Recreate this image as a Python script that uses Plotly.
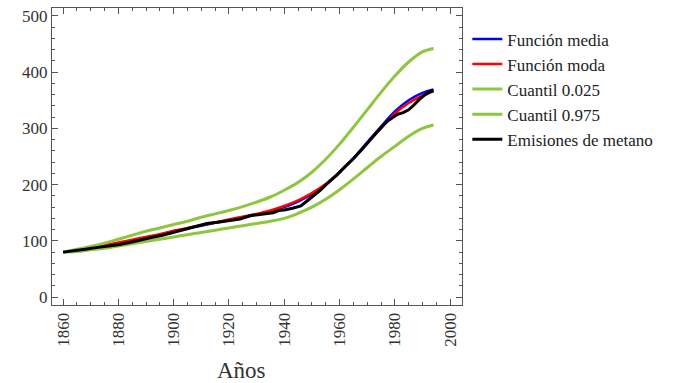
import plotly.graph_objects as go

years = [1860, 1865, 1870, 1875, 1880, 1885, 1890, 1895, 1900, 1905, 1910, 1915, 1920, 1925,
         1930, 1935, 1940, 1945, 1950, 1955, 1960, 1965, 1970, 1975, 1980, 1985, 1990, 1994]

media = [80, 83, 87, 91, 96, 101, 106, 111, 117, 122, 127, 132, 137, 142,
         147, 153, 160, 170, 183, 200, 222, 247, 275, 303, 330, 350, 363, 369]
moda = [80, 83, 88, 92, 97, 102, 107, 112, 118, 123, 128, 133, 138, 143,
        148, 154, 162, 172, 185, 201, 222, 246, 273, 300, 326, 345, 358, 366]
q025 = [80, 81, 84, 87, 91, 95, 99, 103, 107, 111, 115, 119, 123, 127,
        131, 135, 140, 149, 160, 174, 191, 210, 230, 250, 268, 286, 300, 306]
q975 = [80, 85, 90, 96, 103, 110, 117, 123, 129, 135, 142, 148, 154, 161,
        169, 178, 190, 204, 222, 245, 272, 302, 333, 364, 393, 418, 436, 442]

obs_years = [1860, 1864, 1868, 1872, 1876, 1880, 1884, 1888, 1892, 1896, 1900, 1904, 1908,
             1912, 1916, 1920, 1924, 1928, 1932, 1936, 1938, 1940, 1943, 1946, 1948, 1950,
             1953, 1956, 1959, 1962, 1965, 1968, 1971, 1974, 1977, 1979, 1981, 1983, 1985,
             1987, 1989, 1991, 1993, 1994]
emisiones = [80, 82, 85, 88, 90, 93, 97, 102, 106, 110, 115, 121, 125,
             131, 133, 136, 139, 145, 148, 150, 154, 155, 158, 162, 170, 178,
             190, 204, 217, 232, 246, 262, 280, 296, 312, 318, 325, 328, 333,
             342, 352, 360, 366, 367]

SERIF = "Liberation Serif, Times New Roman, serif"
GREEN = "#8DC63F"
fig = go.Figure()
fig.add_trace(go.Scatter(x=years, y=media, mode="lines", name="Función media",
                         line=dict(color="#0000FF", width=2.5, shape="spline")))
fig.add_trace(go.Scatter(x=years, y=moda, mode="lines", name="Función moda",
                         line=dict(color="#FF0000", width=2.5, shape="spline")))
fig.add_trace(go.Scatter(x=years, y=q025, mode="lines", name="Cuantil 0.025",
                         line=dict(color=GREEN, width=3, shape="spline")))
fig.add_trace(go.Scatter(x=years, y=q975, mode="lines", name="Cuantil 0.975",
                         line=dict(color=GREEN, width=3, shape="spline")))
fig.add_trace(go.Scatter(x=obs_years, y=emisiones, mode="lines", name="Emisiones de metano",
                         line=dict(color="#000000", width=3)))

axis_common = dict(showline=True, linecolor="#555", linewidth=1, mirror="allticks",
                   ticks="inside", tickcolor="#555", ticklen=6, showgrid=False, zeroline=False,
                   tickfont=dict(family=SERIF, size=17, color="#333"))
fig.update_xaxes(range=[1856, 2004.3], tick0=1860, dtick=20, tickangle=-90,
                 minor=dict(ticks="inside", ticklen=3, dtick=5, tick0=1860, tickcolor="#555"),
                 **axis_common)
fig.update_yaxes(range=[-14, 514], tick0=0, dtick=100,
                 minor=dict(ticks="inside", ticklen=3, dtick=20, tick0=0, tickcolor="#555"),
                 **axis_common)
fig.add_annotation(text="Años", xref="paper", yref="paper", x=0.463, y=-0.22,
                   xanchor="center", yanchor="middle", showarrow=False,
                   font=dict(family=SERIF, size=23, color="#333"))
fig.update_layout(
    width=675, height=383,
    font=dict(family=SERIF),
    margin=dict(l=52, r=213, t=8, b=78, autoexpand=False),
    paper_bgcolor="white", plot_bgcolor="white",
    legend=dict(x=1.013, y=0.955, xanchor="left", yanchor="top", itemwidth=30,
                font=dict(family=SERIF, size=17, color="#222"),
                tracegroupgap=0, bgcolor="rgba(0,0,0,0)"),
    showlegend=True,
)
fig.write_html("out.html", config={"displayModeBar": False},
               post_script="document.body.style.margin='0';document.body.style.overflow='hidden';")
